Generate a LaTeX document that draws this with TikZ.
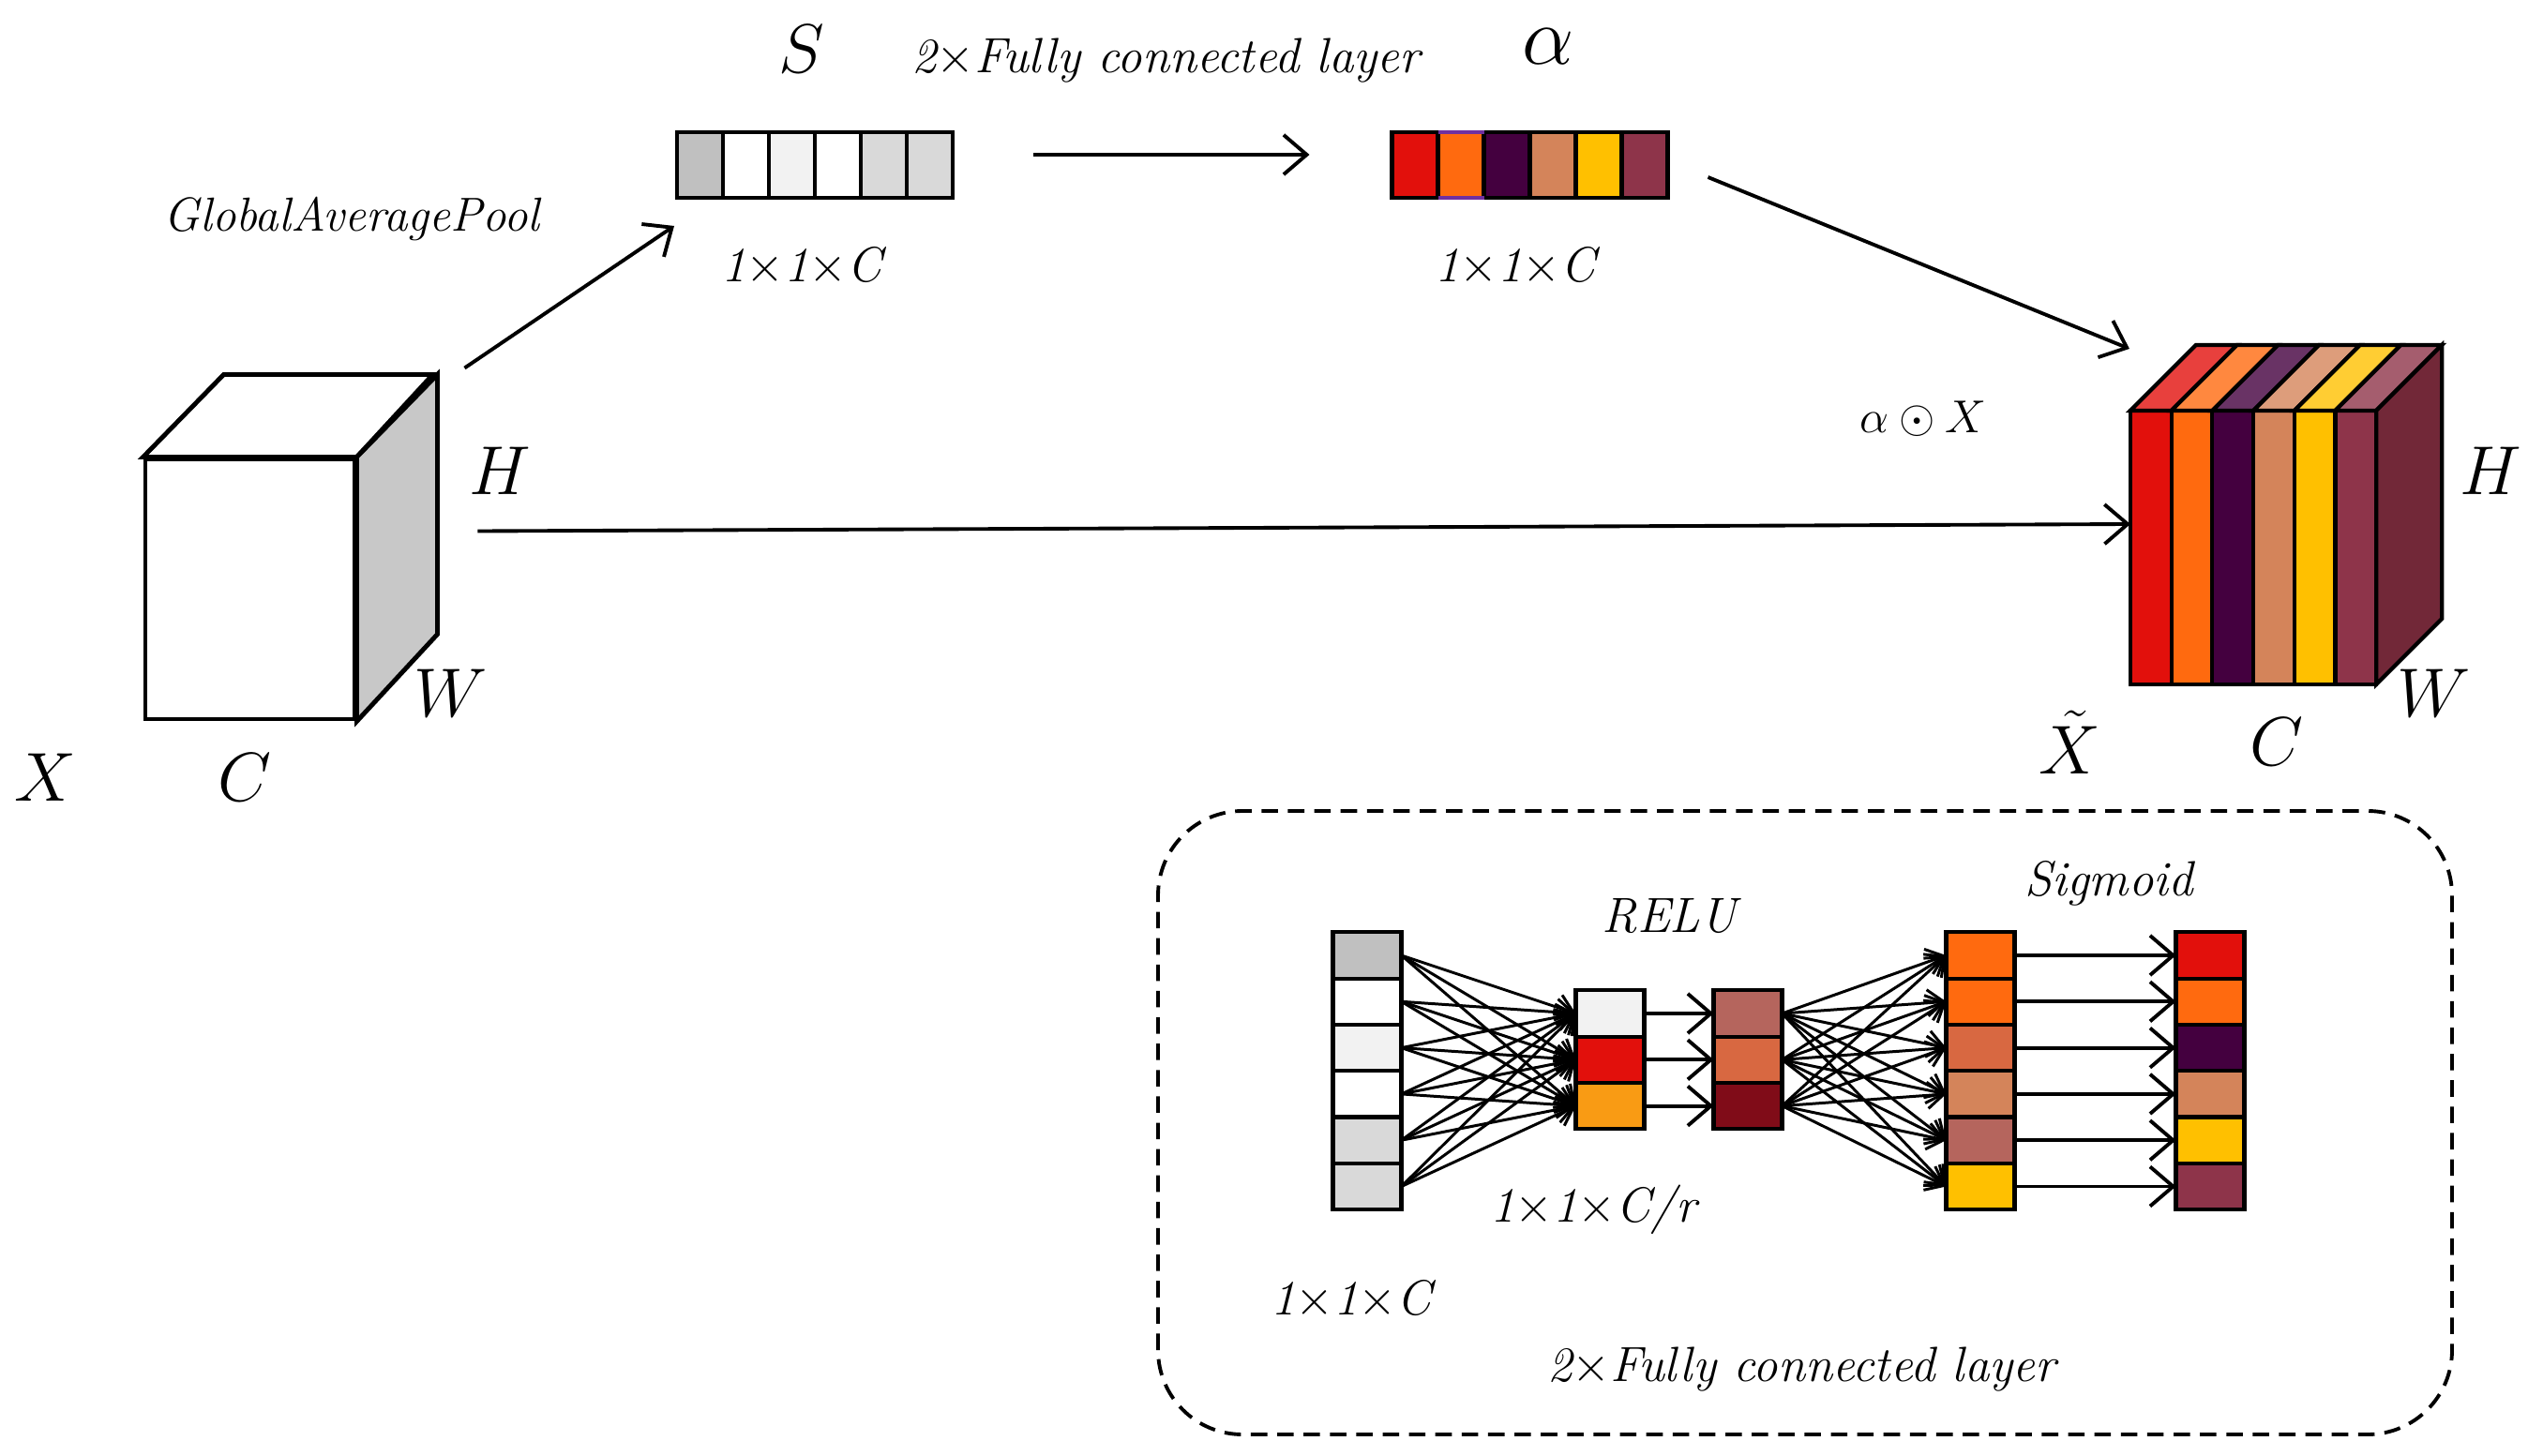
\documentclass[tikz,border=0pt]{standalone}
\usepackage{fix-cm}
\usepackage{xcolor}
\definecolor{cRed}{HTML}{E2100C}
\definecolor{cOrange}{HTML}{FF6A0F}
\definecolor{cPlum}{HTML}{44003F}
\definecolor{cTan}{HTML}{D4845A}
\definecolor{cGold}{HTML}{FFC000}
\definecolor{cWine}{HTML}{8E344A}
\definecolor{cRose}{HTML}{B5655D}
\definecolor{cRust}{HTML}{D86841}
\definecolor{cAmber}{HTML}{F99B14}
\definecolor{cBlood}{HTML}{800C18}
\definecolor{cSide}{HTML}{722838}
\definecolor{cViolet}{HTML}{7030A0}
\definecolor{grayA}{HTML}{C0C0C0}
\definecolor{grayB}{HTML}{F2F2F2}
\definecolor{grayC}{HTML}{D9D9D9}
\definecolor{cubeGray}{HTML}{C8C8C8}
\usepackage{amsmath, amssymb}
\usepackage{tikz}
\usetikzlibrary{arrows.meta, positioning, calc}

\tikzset{
	cell/.style={draw=black, line width=1.2pt, fill=white, minimum width=0.49cm, minimum height=0.70cm, inner sep=0pt, outer sep=0pt},
	fccell/.style={cell, minimum width=0.73cm, minimum height=0.493cm},
	dimlbl/.style={font=\fontsize{21}{25}\selectfont, inner sep=1pt},
	capt/.style={font=\fontsize{15}{18}\selectfont\itshape},
	conn/.style={line width=1.1pt, -{Straight Barb[length=7pt,width=12pt]}},
	fcline/.style={line width=0.85pt, -{Straight Barb[length=5pt,width=8pt]}},
}

\begin{document}
\begin{tikzpicture}
	\useasboundingbox (0,0) rectangle (26.96,15.52);

	% input feature map X
	\node[draw, line width=1.4pt, fill=white, minimum width=2.23cm, minimum height=2.77cm, inner sep=0pt] (xfront) at (2.665,9.235) {};
	\draw[line width=1.4pt, fill=white] (xfront.north west) -- ++(0.86,0.88) -- ++(2.23,0) -- (xfront.north east) -- cycle;
	\draw[line width=1.4pt, fill=cubeGray] (xfront.north east) -- ++(0.86,0.88) coordinate (xback) -- ++(0,-2.77) -- (xfront.south east) -- cycle;
	\node[dimlbl] (lx) at (0.48,7.23) {$X$};
	\node[dimlbl] (lc) at (2.61,7.23) {$C$};
	\node[dimlbl] (lw) at (4.81,8.13) {$W$};
	\node[dimlbl] (lh) at (5.33,10.50) {$H$};
	\node[font=\fontsize{14.5}{17}\selectfont\itshape] (lgap) at (3.75,13.18) {GlobalAveragePool};

	% squeeze vector S and excitation alpha
	\foreach \c [count=\i] in {grayA,white,grayB,white,grayC,grayC}
		\node[cell, fill=\c] (s\i) at ({7.465+0.49*(\i-1)},13.76) {};
	\foreach \c [count=\i] in {cRed,cOrange,cPlum,cTan,cGold,cWine}
		\node[cell, fill=\c] (a\i) at ({15.09+0.49*(\i-1)},13.76) {};
	\draw[cViolet, line width=1.2pt] (a2.north west) -- (a2.north east) (a2.south west) -- (a2.south east);
	\node[dimlbl] (ls) at (8.55,15.00) {$S$};
	\node[font=\fontsize{25}{29}\selectfont, inner sep=0pt] (lalpha) at (16.51,15.02) {$\alpha$};
	\node[capt] (lfc) at (12.43,14.87) {2$\times$Fully connected layer};
	\node[capt] (ls1) at (8.55,12.68) {1$\times$1$\times$C};
	\node[capt] (la1) at (16.16,12.68) {1$\times$1$\times$C};

	% rescaled output
	\foreach \c [count=\i] in {cRed,cOrange,cPlum,cTan,cGold,cWine} {
		\node[cell, fill=\c, minimum width=0.437cm, minimum height=2.92cm] (t\i) at ({22.938+0.437*(\i-1)},9.68) {};
		\draw[line width=1.2pt, fill=\c!80!white] (t\i.north west) -- ++(0.7,0.7) -- ++(0.437,0) -- (t\i.north east) -- cycle;
	}
	\draw[line width=1.2pt, fill=cSide] (t6.north east) -- ++(0.7,0.7) -- ++(0,-2.92) -- (t6.south east) -- cycle;
	\node[dimlbl] (rh) at (26.56,10.50) {$H$};
	\node[dimlbl] (rw) at (25.96,8.13) {$W$};
	\node[dimlbl] (rc) at (24.28,7.61) {$C$};
	\node[dimlbl] (rx) at (22.07,7.60) {$\tilde{X}$};
	\node[font=\fontsize{14}{17}\selectfont] (lmul) at (20.51,11.05) {$\alpha\odot X$};

	\draw[conn] ([shift={(0.29,0.07)}]xback) -- ([shift={(-0.03,-0.30)}]s1.south west);
	\draw[conn, shorten <=0.86cm, shorten >=0.88cm] ([yshift=0.11cm]s6.east) -- ([yshift=0.11cm]a1.west);
	\draw[conn] ([shift={(0.43,-0.13)}]a6.east) -- ([shift={(-0.01,0.66)}]t1.north west);
	\draw[conn] ([shift={(1.29,0.62)}]xfront.east) -- ([yshift=0.25cm]t1.west);

	% detail of the two fully connected layers
	\draw[dash pattern=on 5pt off 3pt, line width=1.1pt, rounded corners=0.9cm] (12.35,0.22) rectangle (26.15,6.87);
	\foreach \c [count=\i] in {grayA,white,grayB,white,grayC,grayC}
		\node[fccell, fill=\c] (in\i) at (14.58,{5.33-0.493*(\i-1)}) {};
	\foreach \c [count=\i] in {grayB,cRed,cAmber}
		\node[fccell, fill=\c] (h\i) at (17.17,{4.71-0.493*(\i-1)}) {};
	\foreach \c [count=\i] in {cRose,cRust,cBlood}
		\node[fccell, fill=\c] (g\i) at (18.64,{4.71-0.493*(\i-1)}) {};
	\foreach \c [count=\i] in {cOrange,cOrange,cRust,cTan,cRose,cGold}
		\node[fccell, fill=\c] (o\i) at (21.12,{5.33-0.493*(\i-1)}) {};
	\foreach \c [count=\i] in {cRed,cOrange,cPlum,cTan,cGold,cWine}
		\node[fccell, fill=\c] (p\i) at (23.57,{5.33-0.493*(\i-1)}) {};
	\foreach \i in {1,...,6}
		\foreach \j in {1,2,3} {
			\draw[fcline] (in\i.east) -- (h\j.west);
			\draw[fcline] (g\j.east) -- (o\i.west);
		}
	\foreach \j in {1,2,3}
		\draw[conn] (h\j.east) -- (g\j.west);
	\foreach \i in {1,...,6}
		\draw[conn] (o\i.east) -- (p\i.west);
	\node[capt] (lrelu) at (17.80,5.75) {RELU};
	\node[capt] (lsig) at (22.49,6.10) {Sigmoid};
	\node[capt] (lred) at (16.99,2.62) {1$\times$1$\times$C/r};
	\node[capt] (lin) at (14.41,1.66) {1$\times$1$\times$C};
	\node[capt] (lfc2) at (19.21,0.91) {2$\times$Fully connected layer};
\end{tikzpicture}
\end{document}
